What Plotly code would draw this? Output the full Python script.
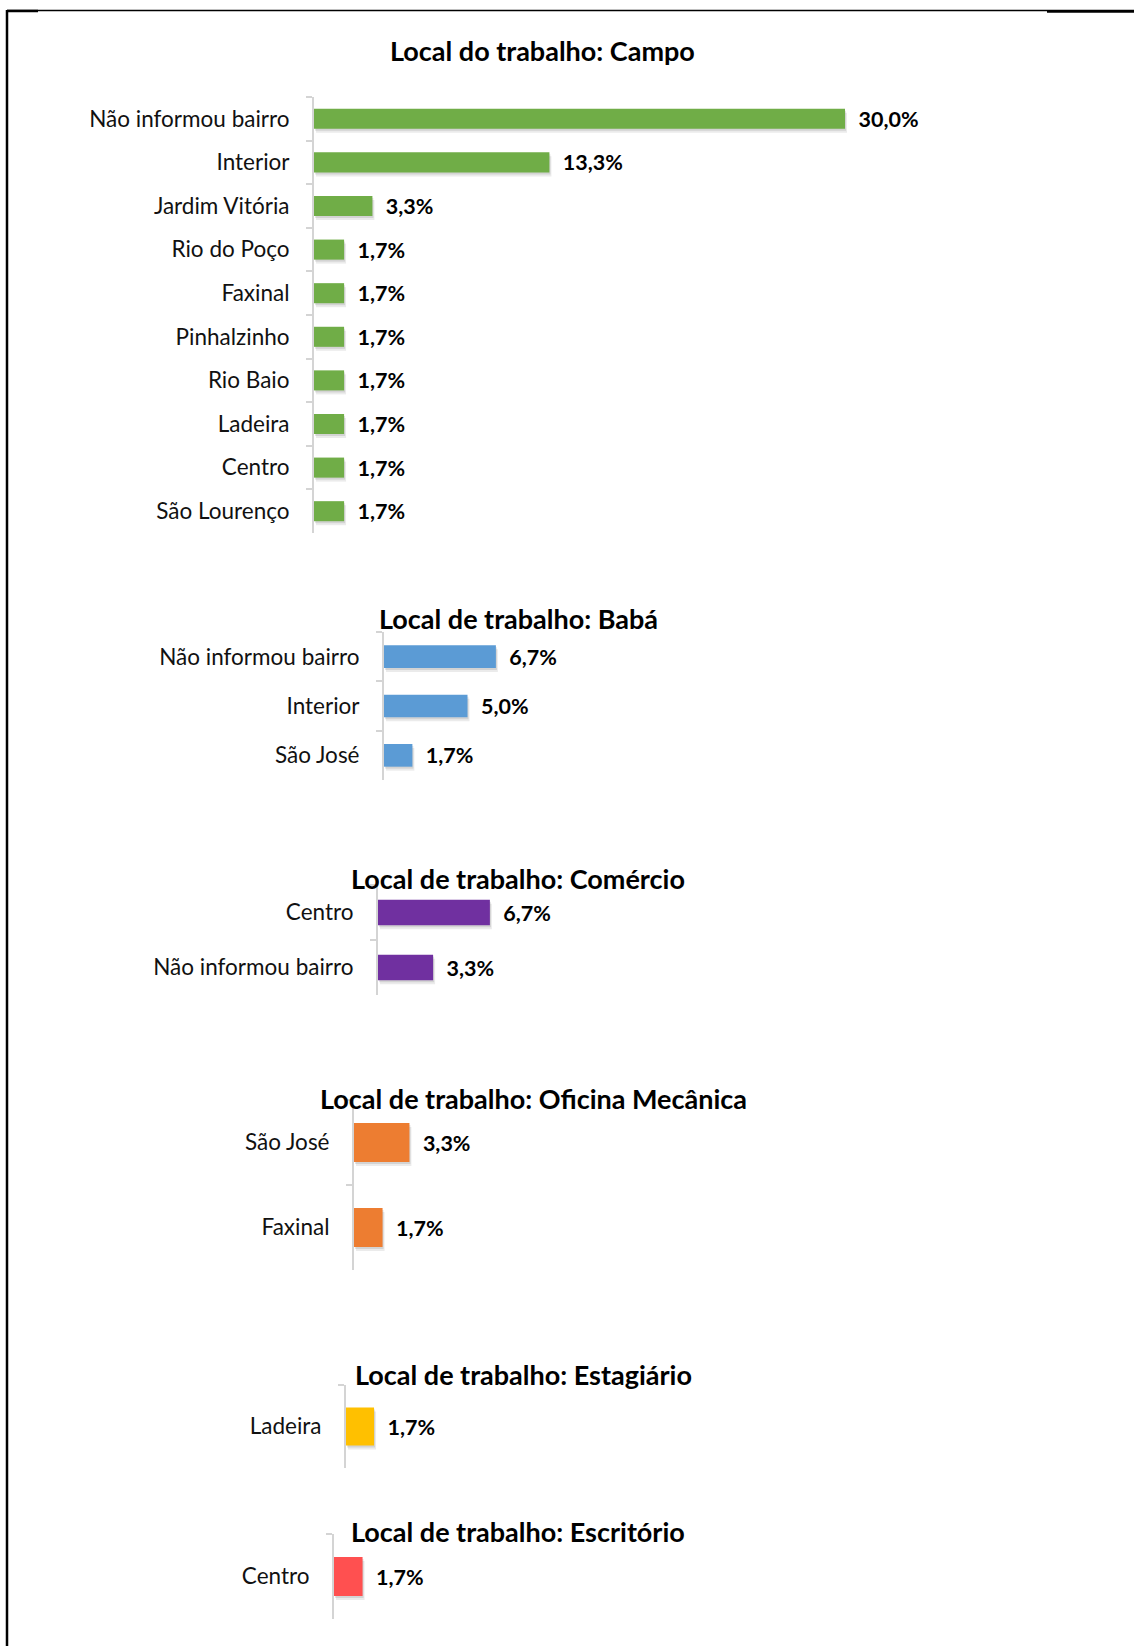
import plotly.graph_objects as go

W, H = 1134, 1646

# ---- data: share of workers (%) by neighbourhood, per type of workplace ----
campo_bairros = ["Não informou bairro", "Interior", "Jardim Vitória", "Rio do Poço", "Faxinal",
                 "Pinhalzinho", "Rio Baio", "Ladeira", "Centro", "São Lourenço"]
campo_pct = [30.0, 13.3, 3.3, 1.7, 1.7, 1.7, 1.7, 1.7, 1.7, 1.7]

baba_bairros = ["Não informou bairro", "Interior", "São José"]
baba_pct = [6.7, 5.0, 1.7]

comercio_bairros = ["Centro", "Não informou bairro"]
comercio_pct = [6.7, 3.3]

oficina_bairros = ["São José", "Faxinal"]
oficina_pct = [3.3, 1.7]

estagiario_bairros = ["Ladeira"]
estagiario_pct = [1.7]

escritorio_bairros = ["Centro"]
escritorio_pct = [1.7]

titulos = ["Local do trabalho: Campo", "Local de trabalho: Babá", "Local de trabalho: Comércio",
           "Local de trabalho: Oficina Mecânica", "Local de trabalho: Estagiário",
           "Local de trabalho: Escritório"]

categorias = [campo_bairros, baba_bairros, comercio_bairros, oficina_bairros,
              estagiario_bairros, escritorio_bairros]
valores = [campo_pct, baba_pct, comercio_pct, oficina_pct, estagiario_pct, escritorio_pct]

# ---- styling ----
cores = ["#70AD47", "#5B9BD5", "#7030A0", "#ED7D31", "#FFC000", "#FF5050"]
FONT = "Lato"
AXIS_GREY = "#D4D4D4"
BAR_W = 0.46
X_MAX = 40.0

# panel placement on the page (pixels): axis x, pixels per 1 %, category band top/bottom, title centre
geometria = [
    dict(ax=313, ppp=17.7, top=97, bot=533, tx=542, ty=50),
    dict(ax=383, ppp=16.7, top=632, bot=780, tx=518, ty=618),
    dict(ax=377, ppp=16.7, top=885, bot=995, tx=518, ty=878),
    dict(ax=353, ppp=16.8, top=1100, bot=1270, tx=533, ty=1098),
    dict(ax=345, ppp=16.5, top=1385, bot=1468, tx=523, ty=1374),
    dict(ax=333, ppp=16.8, top=1534, bot=1619, tx=518, ty=1531),
]

fig = go.Figure()
layout_axes = {}
annotations = []

for i, (cats, vals, cor, titulo, g) in enumerate(zip(categorias, valores, cores, titulos, geometria), start=1):
    sfx = "" if i == 1 else str(i)
    xref, yref = f"x{sfx}", f"y{sfx}"
    n = len(cats)
    cat_px = (g["bot"] - g["top"]) / n

    # soft drop shadow under each bar (two faint layers offset down/right)
    for k, (dy, a) in enumerate([(2.0, 0.10), (4.0, 0.08)]):
        fig.add_trace(go.Bar(
            x=vals, y=cats, orientation="h", base=(1.0 + k) / g["ppp"],
            width=BAR_W, offset=-BAR_W / 2 + dy / cat_px,
            marker=dict(color=f"rgba(0,0,0,{a})", line=dict(width=0)),
            hoverinfo="skip", showlegend=False, xaxis=xref, yaxis=yref,
        ))

    fig.add_trace(go.Bar(
        x=vals, y=cats, orientation="h",
        width=BAR_W, offset=-BAR_W / 2,
        marker=dict(color=cor, line=dict(width=0)),
        texttemplate="\u00a0\u00a0%{x:.1f}%", textposition="outside",
        textfont=dict(family=FONT, size=21.5, color="#000000", weight="bold"),
        constraintext="none", cliponaxis=False,
        showlegend=False, xaxis=xref, yaxis=yref,
    ))

    x0 = (g["ax"] + 1) / W
    x1 = (g["ax"] + 1 + X_MAX * g["ppp"]) / W
    layout_axes[f"xaxis{sfx}"] = dict(
        domain=[x0, x1], range=[0, X_MAX], visible=False, anchor=yref, fixedrange=True,
    )
    layout_axes[f"yaxis{sfx}"] = dict(
        domain=[1 - g["bot"] / H, 1 - g["top"] / H], anchor=xref,
        type="category", categoryorder="array", categoryarray=cats,
        range=[n - 0.5, -0.5],
        tickson="boundaries", ticks="outside", ticklen=6, tickwidth=2, tickcolor=AXIS_GREY,
        showline=True, linecolor=AXIS_GREY, linewidth=2,
        showgrid=False, zeroline=False, ticklabelstandoff=18,
        tickfont=dict(family=FONT, size=22.5, color="#111111"), fixedrange=True,
    )
    annotations.append(dict(
        text=titulo, xref="paper", yref="paper", x=g["tx"] / W, y=1 - g["ty"] / H,
        xanchor="center", yanchor="middle", showarrow=False,
        font=dict(family=FONT, size=27, color="#000000", weight="bold"),
    ))

# page frame: top rule and left rule
shapes = [
    dict(type="line", xref="paper", yref="paper", x0=7 / W, x1=1, y0=1 - 10.5 / H, y1=1 - 10.5 / H,
         line=dict(color="#000000", width=1.5)),
    dict(type="line", xref="paper", yref="paper", x0=7 / W, x1=38 / W, y0=1 - 11 / H, y1=1 - 11 / H,
         line=dict(color="#000000", width=2.5)),
    dict(type="line", xref="paper", yref="paper", x0=1047 / W, x1=1, y0=1 - 11.5 / H, y1=1 - 11.5 / H,
         line=dict(color="#000000", width=2.5)),
    dict(type="line", xref="paper", yref="paper", x0=7 / W, x1=7 / W, y0=0, y1=1 - 10 / H,
         line=dict(color="#000000", width=2.5)),
]

fig.update_layout(
    width=W, height=H, margin=dict(l=0, r=0, t=0, b=0),
    paper_bgcolor="white", plot_bgcolor="white",
    barmode="overlay", separators=",.",
    annotations=annotations, shapes=shapes,
    **layout_axes,
)

fig.write_html("out.html")
